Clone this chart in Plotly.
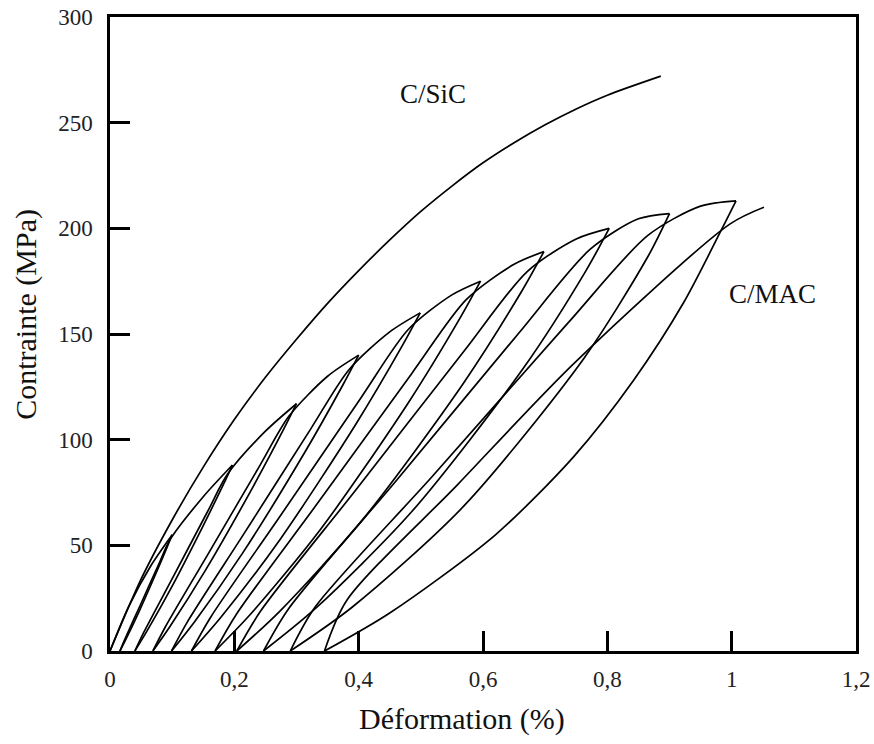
import plotly.graph_objects as go

# ---------------- data ----------------
# C/SiC monotonic tensile curve
csic_strain = [0, 0.05, 0.10, 0.15, 0.20, 0.25, 0.30, 0.35, 0.40, 0.45, 0.50,
               0.55, 0.60, 0.65, 0.70, 0.75, 0.80, 0.886]
csic_stress = [0, 34, 62, 87, 109.5, 129.5, 147.5, 164.5, 180, 194.5, 208,
               220, 231, 240.5, 249, 256.5, 263, 272]

# C/MAC initial loading up to the first peak
mac_first_strain = [0, 0.03, 0.065, 0.100]
mac_first_stress = [0, 21, 40, 55]

# C/MAC unloading branches (peak -> residual strain), one list per cycle
unload_strain = [
    [0.100, 0.0924, 0.0742, 0.046, 0.0255, 0.016],
    [0.197, 0.183, 0.1494, 0.0969, 0.0582, 0.040],
    [0.300, 0.280, 0.2314, 0.1544, 0.0967, 0.069],
    [0.400, 0.3748, 0.3129, 0.213, 0.1364, 0.099],
    [0.499, 0.4693, 0.3952, 0.2736, 0.1784, 0.131],
    [0.596, 0.563, 0.4794, 0.3391, 0.2263, 0.169],
    [0.698, 0.662, 0.5683, 0.407, 0.2734, 0.204],
    [0.803, 0.7657, 0.6654, 0.4855, 0.3301, 0.247],
    [0.900, 0.8646, 0.7628, 0.5682, 0.3894, 0.290],
    [1.007, 0.983, 0.923, 0.842, 0.746, 0.62, 0.45, 0.345],
]
unload_stress = [
    [55, 49.5, 36.9, 18.2, 5.5, 0],
    [88, 79.2, 59.0, 29.0, 8.8, 0],
    [117, 105.3, 78.4, 38.6, 11.7, 0],
    [140, 126, 93.8, 46.2, 14, 0],
    [160, 144, 107.2, 52.8, 16, 0],
    [175, 157.5, 117.25, 57.75, 17.5, 0],
    [189, 170.1, 126.6, 62.4, 18.9, 0],
    [200, 180, 134, 66, 20, 0],
    [207, 186.3, 138.7, 68.3, 20.7, 0],
    [213, 199, 165, 128, 92, 55, 18, 0],
]

# C/MAC reloading branches (residual strain -> back onto envelope -> next peak)
reload_strain = [
    [0.016, 0.0238, 0.0492, 0.0787, 0.0957, 0.150, 0.197],
    [0.040, 0.0543, 0.1018, 0.157, 0.1889, 0.250, 0.300],
    [0.069, 0.0896, 0.1596, 0.241, 0.288, 0.350, 0.400],
    [0.099, 0.125, 0.2166, 0.3227, 0.3841, 0.450, 0.499],
    [0.131, 0.1619, 0.2741, 0.4041, 0.4794, 0.550, 0.596],
    [0.169, 0.2036, 0.3341, 0.4852, 0.573, 0.650, 0.698],
    [0.204, 0.2423, 0.3938, 0.569, 0.6711, 0.750, 0.803],
    [0.247, 0.2873, 0.4587, 0.6564, 0.7721, 0.850, 0.900],
    [0.290, 0.3297, 0.519, 0.7368, 0.8652, 0.950, 1.007],
    [0.345, 0.381, 0.56, 0.746, 0.997, 1.052],
]
reload_stress = [
    [0, 5.5, 22, 41.25, 52.25, 73, 88],
    [0, 8.8, 35.2, 66, 83.6, 104, 117],
    [0, 11.7, 46.8, 87.75, 111.15, 130, 140],
    [0, 14, 56, 105, 133, 151, 160],
    [0, 16, 64, 120, 152, 168.5, 175],
    [0, 17.5, 70, 131.25, 166.25, 183, 189],
    [0, 18.9, 75.6, 141.75, 179.55, 195, 200],
    [0, 20, 80, 150, 190, 204.5, 207],
    [0, 20.7, 82.8, 155.25, 196.65, 210.5, 213],
    [0, 24, 79, 136, 202, 210],
]

x_tickvals = [0, 0.2, 0.4, 0.6, 0.8, 1.0, 1.2]
x_ticktext = ["0", "0,2", "0,4", "0,6", "0,8", "1", "1,2"]
y_tickvals = [0, 50, 100, 150, 200, 250, 300]
y_ticktext = ["0", "50", "100", "150", "200", "250", "300"]

# ---------------- figure ----------------
FONT = "Liberation Serif, Times New Roman, serif"
line_style = dict(color="black", width=1.7, shape="spline", smoothing=0.8)

fig = go.Figure()
fig.add_trace(go.Scatter(x=csic_strain, y=csic_stress, mode="lines", line=line_style))
fig.add_trace(go.Scatter(x=mac_first_strain, y=mac_first_stress, mode="lines", line=line_style))
for xs, ys in zip(unload_strain, unload_stress):
    fig.add_trace(go.Scatter(x=xs, y=ys, mode="lines", line=line_style))
for xs, ys in zip(reload_strain, reload_stress):
    fig.add_trace(go.Scatter(x=xs, y=ys, mode="lines", line=line_style))

axis_common = dict(
    showgrid=False, zeroline=False, showline=True, linecolor="black", linewidth=2.5,
    mirror=True, ticks="inside", ticklen=20, tickwidth=2.5, tickcolor="black",
    automargin=False,
    tickfont=dict(family=FONT, size=23, color="#222"),
)
fig.update_xaxes(range=[0, 1.2], tickvals=x_tickvals, ticktext=x_ticktext,
                 ticklabelstandoff=6, **axis_common)
fig.update_yaxes(range=[0, 300], tickvals=y_tickvals, ticktext=y_ticktext,
                 ticklabelstandoff=10, **axis_common)

fig.add_annotation(x=0.52, y=263.5, text="C/SiC", showarrow=False,
                   font=dict(family=FONT, size=27, color="#111"))
fig.add_annotation(x=1.065, y=168.8, text="C/MAC", showarrow=False,
                   font=dict(family=FONT, size=27, color="#111"))
fig.add_annotation(xref="paper", yref="paper", x=0.472, y=-0.107,
                   xanchor="center", yanchor="middle",
                   text="Déformation (%)", showarrow=False,
                   font=dict(family=FONT, size=30, color="#111"))
fig.add_annotation(xref="paper", yref="paper", x=-0.112, y=0.531,
                   xanchor="center", yanchor="middle",
                   text="Contrainte (MPa)", showarrow=False, textangle=-90,
                   font=dict(family=FONT, size=30, color="#111"))

fig.update_layout(
    width=874, height=744, showlegend=False,
    margin=dict(l=110, r=18, t=17, b=93, autoexpand=False),
    paper_bgcolor="white", plot_bgcolor="white",
)

fig.write_html("out.html",
               config={"displayModeBar": False},
               post_script="document.body.style.margin='0px';document.body.style.overflow='hidden';")
